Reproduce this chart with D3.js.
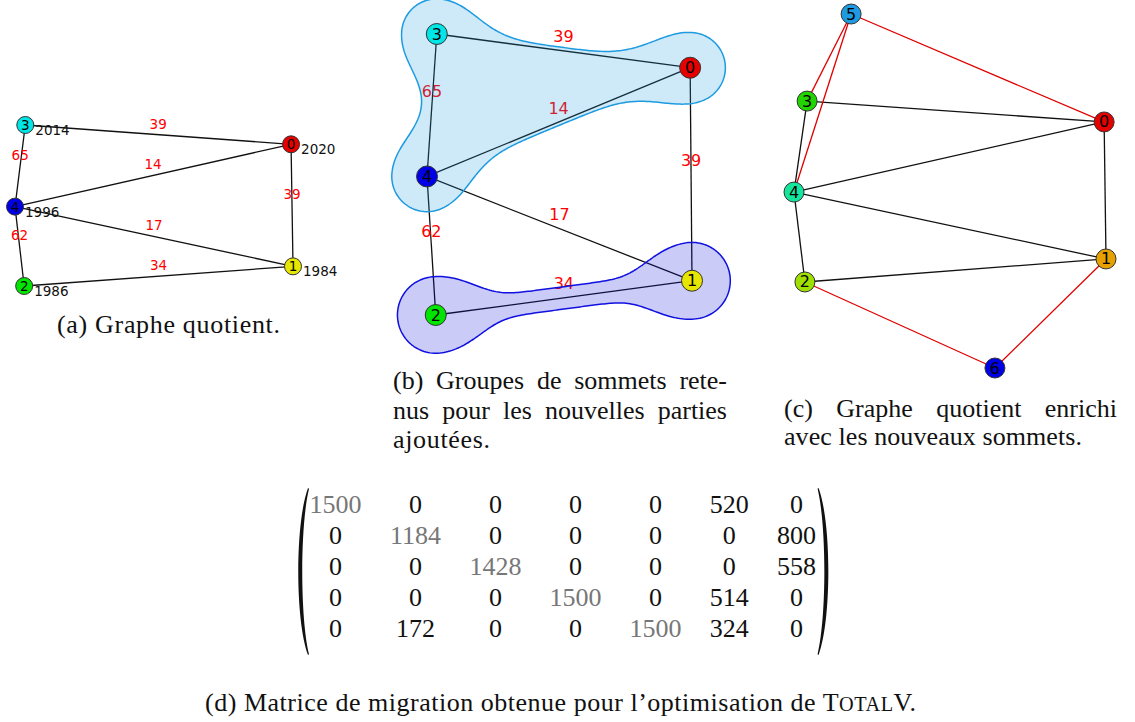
<!DOCTYPE html>
<html>
<head>
<meta charset="utf-8">
<script src="https://cdn.jsdelivr.net/npm/d3@7"></script>
<style>
  body { margin: 0; background: #fff; }
</style>
</head>
<body>
<div id="fig"></div>
<script>
// quotient graph, shared by panels (a) and (b) -- layout in unit coords
const quotientIds = [0, 1, 2, 3, 4];
const quotientX = [0.993, 1, 0.033, 0.037, 0];
const quotientY = [0.12, 0.878, 1, 0, 0.507];
const quotientYears = [2020, 1984, 1986, 2014, 1996];
const quotientColors = ["#e60000", "#e6e600", "#00e600", "#00e6e6", "#0000e6"];
const quotientEdges = [[3, 0], [0, 4], [3, 4], [0, 1], [4, 2], [4, 1], [2, 1]];
const edgeWeights = [39, 14, 65, 39, 62, 17, 34];

// groups of vertices kept for the new parts (panel b)
const groups = [[3, 0, 4], [2, 1]];
const groupColors = ["#1e9be0", "#1010e0"];

// enriched quotient graph (panel c)
const enrichedIds = [0, 1, 2, 3, 4, 5, 6];
const enrichedX = [0.994, 1, 0.035, 0.042, 0, 0.183, 0.644];
const enrichedY = [0.305, 0.692, 0.757, 0.246, 0.503, 0, 1];
const enrichedColors = ["#e60000", "#e6a000", "#a0e000", "#22d400", "#14e69c", "#1e9be0", "#0000e6"];
const enrichedEdges = [[3, 0], [3, 4], [4, 0], [4, 1], [4, 2], [2, 1], [0, 1], [5, 0], [5, 3], [5, 4], [2, 6], [6, 1]];
const enrichedNew = [false, false, false, false, false, false, false, true, true, true, true, true];

// migration matrix (panel d)
const matrix = [
  [1500, 0, 0, 0, 0, 520, 0],
  [0, 1184, 0, 0, 0, 0, 800],
  [0, 0, 1428, 0, 0, 0, 558],
  [0, 0, 0, 1500, 0, 514, 0],
  [0, 172, 0, 0, 1500, 324, 0]
];

const W = 1135, H = 722;
const svg = d3.select("#fig").append("svg")
  .attr("width", W).attr("height", H)
  .style("display", "block");

const sans = "DejaVu Sans";
const serif = "Liberation Serif";

const quotientNodes = quotientIds.map((id, i) => ({id: id, x: quotientX[i], y: quotientY[i], year: quotientYears[i], color: quotientColors[i]}));
const enrichedNodes = enrichedIds.map((id, i) => ({id: id, x: enrichedX[i], y: enrichedY[i], color: enrichedColors[i]}));

function byId(nodes, id) { return nodes.find(n => n.id === id); }

function drawGraph(g, nodes, edges, x, y, opts) {
  g.selectAll("line.edge")
    .data(edges)
    .join("line")
      .attr("class", "edge")
      .attr("x1", d => x(byId(nodes, d.s).x))
      .attr("y1", d => y(byId(nodes, d.s).y))
      .attr("x2", d => x(byId(nodes, d.t).x))
      .attr("y2", d => y(byId(nodes, d.t).y))
      .attr("stroke", d => d.color || "#111")
      .attr("stroke-width", 1.3);

  if (opts.weights) {
    g.selectAll("text.weight")
      .data(edges)
      .join("text")
        .attr("class", "weight")
        .attr("x", d => (x(byId(nodes, d.s).x) + x(byId(nodes, d.t).x)) / 2)
        .attr("y", d => (y(byId(nodes, d.s).y) + y(byId(nodes, d.t).y)) / 2 - opts.weightLift)
        .attr("text-anchor", "middle")
        .attr("dominant-baseline", "central")
        .attr("font-family", sans)
        .attr("font-size", opts.fontSize)
        .attr("fill", "red")
        .text(d => d.w);
  }
}

function drawNodes(g, nodes, x, y, opts) {
  const ng = g.selectAll("g.node")
    .data(nodes)
    .join("g")
      .attr("class", "node")
      .attr("transform", d => `translate(${x(d.x)},${y(d.y)})`);
  ng.append("circle")
    .attr("r", opts.r)
    .attr("fill", d => d.color)
    .attr("stroke", "#333")
    .attr("stroke-width", 1);
  ng.append("text")
    .attr("text-anchor", "middle")
    .attr("dominant-baseline", "central")
    .attr("font-family", sans)
    .attr("font-size", opts.fontSize)
    .attr("fill", "#000")
    .text(d => d.id);
  if (opts.years) {
    ng.append("text")
      .attr("x", 10)
      .attr("y", 5)
      .attr("dominant-baseline", "central")
      .attr("font-family", sans)
      .attr("font-size", opts.fontSize)
      .attr("fill", "#111")
      .text(d => d.year);
  }
}

const weightedEdges = quotientEdges.map((e, i) => ({s: e[0], t: e[1], w: edgeWeights[i]}));

// ---- panel (a)
const xa = d3.scaleLinear().domain([0, 1]).range([15, 293]);
const ya = d3.scaleLinear().domain([0, 1]).range([125, 286]);
const ga = svg.append("g");
drawGraph(ga, quotientNodes, weightedEdges, xa, ya, {weights: true, weightLift: 11, fontSize: 13.5});
drawNodes(ga, quotientNodes, xa, ya, {r: 8.5, fontSize: 13.5, years: true});

// ---- panel (b)
const xb = d3.scaleLinear().domain([0, 1]).range([427, 692]);
const yb = d3.scaleLinear().domain([0, 1]).range([34, 315]);
const gb = svg.append("g");
drawGraph(gb, quotientNodes, weightedEdges, xb, yb, {weights: true, weightLift: 14, fontSize: 16});

// smooth hulls around each group (metaball field + contour)
function segDist(px, py, ax, ay, bx, by) {
  const dx = bx - ax, dy = by - ay;
  let t = ((px - ax) * dx + (py - ay) * dy) / (dx * dx + dy * dy);
  t = Math.max(0, Math.min(1, t));
  return Math.hypot(px - ax - t * dx, py - ay - t * dy);
}
function gauss(d, s) { return Math.exp(-(d / s) * (d / s)); }

const hullParams = [
  {sigma: 46, nodeW: 0.72, edgeK: 0.2, tau: 26, fillK: 0.7, fillW: 12},
  {sigma: 36, nodeW: 1, edgeK: 0.55, tau: 36, fillK: 0, fillW: 10}
];

const step = 2, gx0 = 370, gy0 = -10, gx1 = 750, gy1 = 380;
const nx = Math.round((gx1 - gx0) / step) + 1, ny = Math.round((gy1 - gy0) / step) + 1;
const hullPath = d3.geoPath(d3.geoIdentity().scale(step).translate([gx0 - step / 2, gy0 - step / 2]));

const hulls = groups.map((grp, gi) => {
  const p = hullParams[gi];
  const pts = grp.map(id => { const n = byId(quotientNodes, id); return [xb(n.x), yb(n.y)]; });
  const segs = quotientEdges.filter(e => grp.includes(e[0]) && grp.includes(e[1]))
    .map(e => { const a = byId(quotientNodes, e[0]), b = byId(quotientNodes, e[1]); return [xb(a.x), yb(a.y), xb(b.x), yb(b.y)]; });
  const values = new Float64Array(nx * ny);
  for (let j = 0; j < ny; j++) {
    for (let i = 0; i < nx; i++) {
      const px = gx0 + i * step, py = gy0 + j * step;
      let f = 0;
      pts.forEach(q => { f += p.nodeW * gauss(Math.hypot(px - q[0], py - q[1]), p.sigma); });
      let dmin = Infinity;
      segs.forEach(s => {
        const d = segDist(px, py, s[0], s[1], s[2], s[3]);
        dmin = Math.min(dmin, d);
        f += p.edgeK * gauss(d, p.tau);
      });
      if (p.fillK > 0 && pts.length > 2) {
        const sd = d3.polygonContains(pts, [px, py]) ? -dmin : dmin;
        f += p.fillK / (1 + Math.exp(sd / p.fillW));
      }
      values[j * nx + i] = f;
    }
  }
  return d3.contours().size([nx, ny]).thresholds([0.5])(values)[0];
});

gb.selectAll("path.hull")
  .data(hulls)
  .join("path")
    .attr("class", "hull")
    .attr("d", d => hullPath(d))
    .attr("fill", (d, i) => groupColors[i])
    .attr("fill-opacity", 0.22)
    .attr("stroke", (d, i) => groupColors[i])
    .attr("stroke-width", 1.5);

drawNodes(gb, quotientNodes, xb, yb, {r: 10.5, fontSize: 16, years: false});

// ---- panel (c)
const xc = d3.scaleLinear().domain([0, 1]).range([794, 1106]);
const yc = d3.scaleLinear().domain([0, 1]).range([14, 368]);
const gc = svg.append("g");
const cEdges = enrichedEdges.map((e, i) => ({s: e[0], t: e[1], color: enrichedNew[i] ? "#e00000" : "#111"}));
drawGraph(gc, enrichedNodes, cEdges, xc, yc, {weights: false});
drawNodes(gc, enrichedNodes, xc, yc, {r: 10, fontSize: 16, years: false});

// ---- panel (d): migration matrix
const digitW = 12.8, colGap = 28.8;
const colWidths = d3.range(matrix[0].length).map(j => d3.max(matrix, r => String(r[j]).length) * digitW);
let acc = 310;
const colCenters = colWidths.map((w, j) => { const c = acc + w / 2; acc += w + colGap; return c; });
const yRow = d3.scalePoint().domain(d3.range(matrix.length)).range([504, 628]);
const gd = svg.append("g");
const cells = matrix.flatMap((row, i) => row.map((v, j) => ({i, j, v})));
gd.selectAll("text.cell")
  .data(cells)
  .join("text")
    .attr("class", "cell")
    .attr("x", d => colCenters[d.j])
    .attr("y", d => yRow(d.i))
    .attr("text-anchor", "middle")
    .attr("dominant-baseline", "central")
    .attr("font-family", serif)
    .attr("font-size", 26)
    .attr("fill", d => d.i === d.j ? "#777" : "#111")
    .text(d => d.v);

// big parentheses
const parTop = yRow(0) - 16, parBot = yRow(matrix.length - 1) + 27;
const leftX = colCenters[0] - colWidths[0] / 2 - 12;
const rightX = colCenters[colCenters.length - 1] + colWidths[colWidths.length - 1] / 2 + 13;
function paren(x0, dir) {
  const p = d3.path();
  const tip = x0 + dir * 10;
  p.moveTo(tip, parTop);
  p.bezierCurveTo(x0 - dir * 3, parTop + 35, x0 - dir * 3, parBot - 35, tip, parBot);
  p.lineTo(tip + dir * 1, parBot - 0.8);
  p.bezierCurveTo(x0 + dir * 2, parBot - 38, x0 + dir * 2, parTop + 38, tip + dir * 1, parTop + 0.8);
  p.closePath();
  return p.toString();
}
gd.append("path").attr("d", paren(leftX, 1)).attr("fill", "#111");
gd.append("path").attr("d", paren(rightX, -1)).attr("fill", "#111");

// ---- captions
const capSize = 26;
const captions = [
  {x: 57, y: 333, len: 223, justify: false, parts: [["(a) Graphe quotient.", 1]]},
  {x: 393, y: 389, len: 334, justify: true, parts: [["(b) Groupes de sommets rete-", 1]]},
  {x: 393, y: 419, len: 334, justify: true, parts: [["nus pour les nouvelles parties", 1]]},
  {x: 393, y: 448, len: 97, justify: false, parts: [["ajoutées.", 1]]},
  {x: 784, y: 417, len: 333, justify: true, parts: [["(c) Graphe quotient enrichi", 1]]},
  {x: 784, y: 445, len: 298, justify: false, parts: [["avec les nouveaux sommets.", 1]]},
  {x: 205, y: 711, len: 711, justify: false, parts: [["(d) Matrice de migration obtenue pour l’optimisation de T", 1], ["OTAL", 0.78], ["V.", 1]]}
];

function capStyle(sel) {
  return sel.attr("font-family", serif).attr("font-size", capSize).attr("fill", "#111");
}

captions.forEach(c => {
  if (c.justify) {
    // spread the words over the line width, like a justified paragraph
    const words = c.parts[0][0].split(" ");
    const wt = words.map(w => capStyle(svg.append("text")).attr("y", c.y).text(w));
    const widths = wt.map(t => t.node().getComputedTextLength());
    const gap = (c.len - d3.sum(widths)) / (words.length - 1);
    let x = c.x;
    wt.forEach((t, i) => { t.attr("x", x); x += widths[i] + gap; });
  } else {
    const t = capStyle(svg.append("text"))
      .attr("x", c.x).attr("y", c.y)
      .attr("textLength", c.len)
      .attr("lengthAdjust", "spacing");
    c.parts.forEach(p => t.append("tspan").attr("font-size", capSize * p[1]).text(p[0]));
  }
});
</script>
</body>
</html>
